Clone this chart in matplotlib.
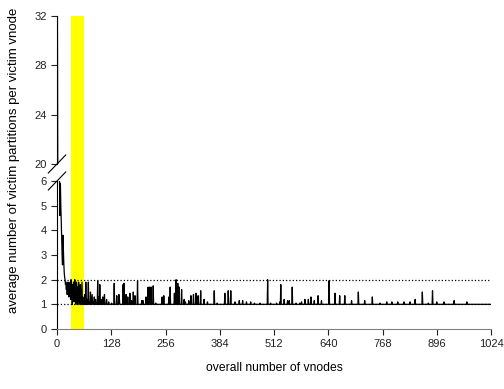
import matplotlib
matplotlib.use("Agg")
import matplotlib.pyplot as plt
import numpy as np
from matplotlib.lines import Line2D

plt.rcParams['font.family'] = ['Liberation Sans', 'DejaVu Sans']

# average victim partitions per victim vnode, vnodes 1..130
early_y = [32.0, 16.5, 11.0, 8.3, 6.8, 6.0, 4.6, 5.9, 5.0, 4.4,
           3.6, 3.0, 2.6, 3.8, 3.2, 2.7, 2.3, 2.1, 2.0, 1.8,
           1.9, 1.6, 1.8, 1.4, 1.7, 1.9, 1.5, 1.3, 1.8, 1.6,
           1.9, 1.2, 2.0, 1.4, 1.7, 1.0, 1.8, 1.3, 1.9, 1.1,
           1.6, 2.0, 1.2, 1.5, 1.0, 1.9, 1.3, 1.7, 1.0, 1.4,
           1.9, 1.1, 1.6, 1.0, 1.8, 1.2, 1.0, 1.5, 1.9, 1.0,
           1.3, 1.0, 1.1, 1.0, 1.0, 1.4, 1.0, 1.9, 1.0, 1.2,
           1.0, 1.0, 1.3, 1.9, 1.0, 1.0, 1.1, 1.0, 1.5, 1.0,
           1.0, 1.2, 1.4, 1.0, 1.0, 1.1, 1.0, 1.3, 1.0, 1.0,
           1.2, 1.0, 1.0, 1.0, 1.1, 1.95, 1.0, 1.3, 1.0, 1.0,
           1.8, 1.0, 1.0, 1.2, 1.0, 1.0, 1.0, 1.3, 1.0, 1.0,
           1.1, 1.4, 1.0, 1.0, 1.0, 1.0, 1.2, 1.0, 1.0, 1.0,
           1.0, 1.1, 1.0, 1.0, 1.0, 1.0, 1.0, 1.0, 1.05, 1.0]

# spikes above the baseline for vnodes > 130
spike_x = [135, 141, 146, 147, 156, 158, 163, 167, 172, 176, 180, 184, 190,
           200, 203, 210, 215, 219, 222, 227, 233, 248, 252,
           264, 267, 277, 281, 285, 288, 294, 300, 303, 311, 316, 322, 328,
           333, 339, 347, 355, 371, 378,
           396, 404, 410, 420, 430, 438, 447, 457, 466, 479, 497, 504, 518,
           526, 528, 536, 544, 548, 555, 564, 573, 577, 585, 593, 599, 607,
           616, 624, 642, 656, 667, 679, 695, 711, 726, 744, 762,
           778, 790, 804, 819, 833, 845, 862, 876, 886, 896, 913, 937, 967]
spike_y = [1.85, 1.35, 1.4, 1.3, 1.8, 1.85, 1.4, 1.3, 1.45, 1.15, 1.5, 1.35, 1.95,
           1.15, 1.15, 1.3, 1.7, 1.7, 1.7, 1.75, 1.05, 1.3, 1.35,
           1.3, 1.7, 1.45, 2.0, 1.85, 1.7, 1.6, 1.2, 1.1, 1.15, 1.35, 1.4, 1.45,
           1.35, 1.55, 1.2, 1.1, 1.55, 1.05,
           1.45, 1.55, 1.55, 1.1, 1.15, 1.15, 1.1, 1.1, 1.05, 1.05, 2.0, 1.05, 1.05,
           1.1, 1.8, 1.2, 1.15, 1.15, 1.7, 1.05, 1.05, 1.1, 1.2, 1.2, 1.3, 1.15,
           1.35, 1.15, 1.96, 1.45, 1.35, 1.35, 1.15, 1.5, 1.15, 1.3, 1.05,
           1.1, 1.1, 1.1, 1.1, 1.1, 1.2, 1.5, 1.05, 1.55, 1.1, 1.1, 1.15, 1.1]
baseline = 1.0
n_vnodes = 1024

vnodes = np.arange(1, n_vnodes + 1)
victims = np.full(n_vnodes, baseline)
victims[:len(early_y)] = early_y
victims[np.array(spike_x) - 1] = spike_y

band = (32, 64)

fig = plt.figure(figsize=(5.04, 3.89), dpi=100)
L, W = 57 / 504, 434 / 504
ax_bot = fig.add_axes([L, 1 - 329 / 389, W, 148 / 389])
ax_top = fig.add_axes([L, 1 - 164 / 389, W, 148 / 389])
for ax in (ax_bot, ax_top):
    ax.patch.set_alpha(0)
    ax.plot(vnodes, victims, color='black', lw=0.9, zorder=3)
    ax.set_xlim(0, 1024)
    ax.spines['top'].set_visible(False)
    ax.spines['right'].set_visible(False)
    ax.tick_params(labelsize=8, length=4, width=0.8, colors='#222222')

# yellow band through both panels
ax_bot.axvspan(band[0], band[1], ymin=0, ymax=(329 - 16) / 148,
               color='#ffff00', lw=0, zorder=1, clip_on=False)

ax_bot.axhline(1, color='black', ls=':', lw=0.9, zorder=2)
ax_bot.axhline(2, color='black', ls=':', lw=0.9, zorder=2)

ax_bot.set_ylim(0, 6)
ax_bot.set_yticks(range(0, 7))
ax_bot.set_xticks(range(0, 1025, 128))
ax_bot.spines['bottom'].set_color('#808080')
ax_bot.set_xlabel('overall number of vnodes', fontsize=8.7, labelpad=9)

ax_top.set_ylim(20, 32)
ax_top.set_yticks([20, 24, 28, 32])
ax_top.spines['bottom'].set_visible(False)
ax_top.set_xticks([])

# break marks on the left spine
dx, dy = 8.7 / 434, 9 / 148
ax_top.add_line(Line2D([-dx, dx], [-dy, dy], transform=ax_top.transAxes,
                       color='black', lw=0.8, clip_on=False))
ax_bot.add_line(Line2D([-dx, dx], [1 - dy, 1 + dy], transform=ax_bot.transAxes,
                       color='black', lw=0.8, clip_on=False))

fig.text(14 / 504, 1 - 160 / 389,
         'average number of victim partitions per victim vnode',
         rotation=90, ha='center', va='center', fontsize=9.5)

fig.savefig('out.png', dpi=100)
